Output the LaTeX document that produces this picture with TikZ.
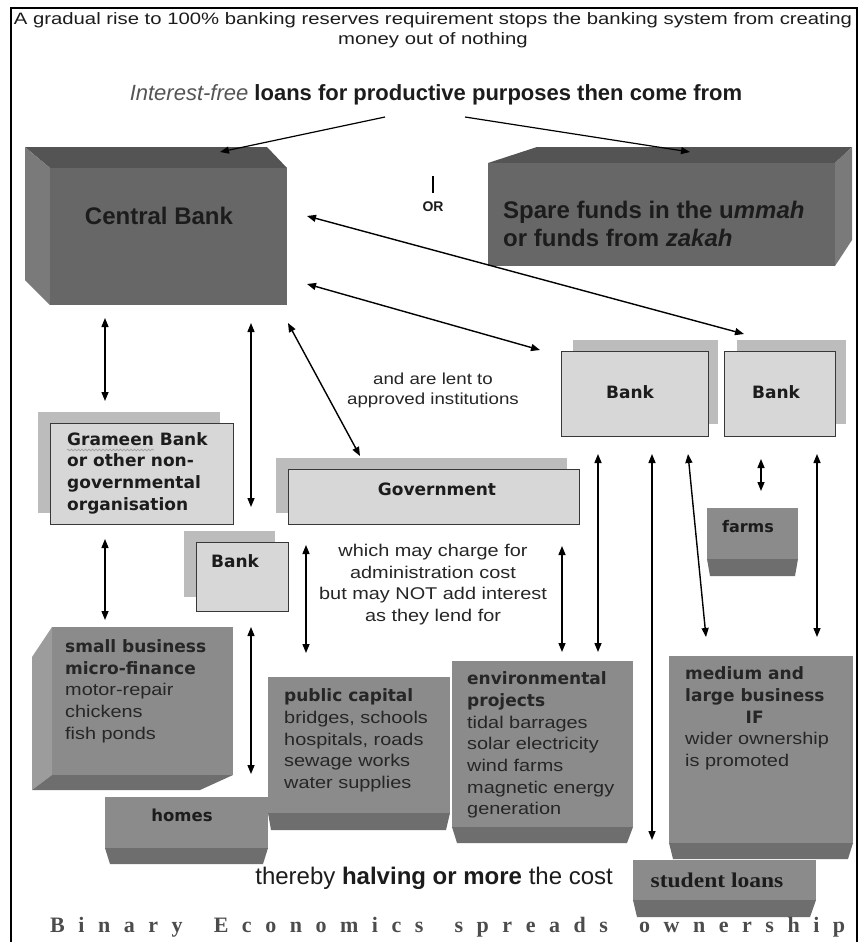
\documentclass[tikz,border=0pt]{standalone}
\usepackage{fontspec}
\setmainfont{Liberation Sans}
\newfontfamily\widefont[FakeStretch=1.17]{Liberation Sans}
\newfontfamily\titlefont[FakeStretch=1.23]{Liberation Sans}
\newfontfamily\verdfont{DejaVu Sans}
\newfontfamily\serifont{Liberation Serif}
\newfontfamily\serifwide[FakeStretch=1.12]{Liberation Serif}
\usetikzlibrary{arrows.meta,decorations.pathmorphing}
\definecolor{txt}{HTML}{1C1C1C}
\definecolor{bodytxt}{HTML}{262626}
\definecolor{cbtop}{HTML}{545454}
\definecolor{cbfront}{HTML}{676767}
\definecolor{cbside}{HTML}{7A7A7A}
\definecolor{gfront}{HTML}{8B8B8B}
\definecolor{gbottom}{HTML}{6E6E6E}
\definecolor{gside}{HTML}{9C9C9C}
\definecolor{bankfill}{HTML}{D7D7D7}
\definecolor{bankshadow}{HTML}{BCBCBC}
\definecolor{bankline}{HTML}{383838}
\definecolor{ifree}{HTML}{555555}
\newcommand\myls{\hskip 0pt plus 1fill\relax}
\newcommand\myws{\hskip 0pt plus 2.3fill\relax}
\begin{document}
\begin{tikzpicture}[x=1pt,y=-1pt,
  face/.style={inner sep=0pt, outer sep=0pt, anchor=north west, draw=none},
  bankbox/.style={inner sep=0pt, outer sep=0pt, anchor=north west, fill=bankfill, draw=bankline, line width=1pt},
  arr/.style={line width=1.4pt, {Triangle[length=9pt,width=7pt]}-{Triangle[length=9pt,width=7pt]}},
  sarr/.style={line width=1.2pt, -{Triangle[length=9pt,width=7pt]}},
  lbl/.style={inner sep=0pt, text=txt, font=\verdfont\bfseries\fontsize{17pt}{21.7pt}\selectfont},
  body/.style={inner sep=0pt, text=bodytxt, align=left, anchor=west, font=\widefont\fontsize{17pt}{21.7pt}\selectfont},
  note/.style={inner sep=0pt, text=bodytxt, align=center},
]
\useasboundingbox (0,0) rectangle (867,942);
\fill[white] (0,0) rectangle (867,942);
% frame
\draw[line width=1.6pt] (11,942) -- (11,8) -- (857,8) -- (857,942);

% Central Bank
\fill[cbtop] (25,147) -- (267,147) -- (287,168) -- (50,168) -- cycle;
\fill[cbside] (25,147) -- (50,168) -- (50,305) -- (25,280) -- cycle;
\node[face, fill=cbfront, minimum width=237pt, minimum height=137pt] (cb) at (50,168) {};
% Spare funds
\fill[cbtop] (488,163) -- (537,147) -- (852,147) -- (835,163) -- cycle;
\fill[cbside] (835,163) -- (852,147) -- (852,240) -- (835,266) -- cycle;
\node[face, fill=cbfront, minimum width=347pt, minimum height=103pt] (sf) at (488,163) {};

% light boxes
\fill[bankshadow] (573,340) rectangle (718,424);
\node[bankbox, minimum width=147pt, minimum height=85pt] (bank1) at (561,351) {};
\fill[bankshadow] (737,340) rectangle (846,424);
\node[bankbox, minimum width=111pt, minimum height=85pt] (bank2) at (724,351) {};
\fill[bankshadow] (38,412) rectangle (220,513);
\node[bankbox, minimum width=183pt, minimum height=101pt] (grameen) at (50,423) {};
\fill[bankshadow] (276,458) rectangle (567,513);
\node[bankbox, minimum width=291pt, minimum height=55pt] (gov) at (288,469) {};
\fill[bankshadow] (184,531) rectangle (275,597);
\node[bankbox, minimum width=92pt, minimum height=69pt] (sbank) at (196,542) {};

% grey boxes
\fill[gbottom] (707,559) -- (798,559) -- (795,576) -- (710,576) -- cycle;
\node[face, fill=gfront, minimum width=91pt, minimum height=51pt] (farms) at (707,508) {};
\fill[gside] (52,627) -- (32,657) -- (32,790) -- (52,775) -- cycle;
\fill[gbottom] (32,790) -- (200,790) -- (233,775) -- (52,775) -- cycle;
\node[face, fill=gfront, minimum width=181pt, minimum height=148pt] (sb) at (52,627) {};
\fill[gbottom] (105,848) -- (268,848) -- (263,864) -- (110,864) -- cycle;
\node[face, fill=gfront, minimum width=163pt, minimum height=51pt] (homes) at (105,797) {};
\fill[gbottom] (268,813) -- (450,813) -- (446,830) -- (271,830) -- cycle;
\node[face, fill=gfront, minimum width=182pt, minimum height=136pt] (pc) at (268,677) {};
\fill[gbottom] (452,827) -- (633,827) -- (627,843) -- (457,843) -- cycle;
\node[face, fill=gfront, minimum width=181pt, minimum height=166pt] (env) at (452,661) {};
\fill[gbottom] (669,843) -- (853,843) -- (848,859) -- (673,859) -- cycle;
\node[face, fill=gfront, minimum width=184pt, minimum height=187pt] (med) at (669,656) {};
\fill[gbottom] (633,900) -- (816,900) -- (810,917) -- (637,917) -- cycle;
\node[face, fill=gfront, minimum width=183pt, minimum height=40pt] (stud) at (633,860) {};

% connector end points
\coordinate (t1s) at (385,117); \coordinate (t1e) at (220,152);
\coordinate (t2s) at (465,117); \coordinate (t2e) at (690,152);
\coordinate (c3s) at (307,216); \coordinate (c3e) at (744,334);
\coordinate (c4s) at (307,284); \coordinate (c4e) at (540,350);
\coordinate (c5s) at (105,318); \coordinate (c5e) at (105,401);
\coordinate (c6s) at (251,323); \coordinate (c6e) at (251,507);
\coordinate (c7s) at (288,323); \coordinate (c7e) at (360,456);
\coordinate (c8s) at (105,539); \coordinate (c8e) at (105,620);
\coordinate (c9s) at (306,545); \coordinate (c9e) at (306,653);
\coordinate (c10s) at (251,627); \coordinate (c10e) at (251,774);
\coordinate (c11s) at (562,546); \coordinate (c11e) at (562,652);
\coordinate (c12s) at (598,454); \coordinate (c12e) at (598,652);
\coordinate (c13s) at (652,454); \coordinate (c13e) at (652,840);
\coordinate (c14s) at (688,454); \coordinate (c14e) at (706,637);
\coordinate (c15s) at (761,459); \coordinate (c15e) at (761,491);
\coordinate (c16s) at (817,454); \coordinate (c16e) at (817,637);

\draw[sarr] (t1s) -- (t1e);
\draw[sarr] (t2s) -- (t2e);
\foreach \c in {3,...,16} {\draw[arr] (c\c s) -- (c\c e);}

% texts
\node[note, text=txt, font=\titlefont\fontsize{16.5pt}{20pt}\selectfont] (title) at (433,30) {A gradual rise to 100\% banking reserves requirement stops the banking system from creating\\money out of nothing};
\node[inner sep=0pt, text=txt, font=\fontsize{22pt}{26pt}\selectfont] (sub) at (436,95) {{\color{ifree}\itshape Interest-free} \textbf{loans for productive purposes then come from}};
\draw[line width=1.6pt] (433,176) -- (433,193);
\node[inner sep=0pt, text=txt, font=\bfseries\fontsize{14pt}{16pt}\selectfont] (or) at (433,207) {OR};

\node[inner sep=0pt, text=txt, font=\bfseries\fontsize{24pt}{28pt}\selectfont] (cbt) at (159,216) {Central Bank};
\node[inner sep=0pt, text=txt, anchor=west, align=left, font=\bfseries\fontsize{24pt}{28pt}\selectfont] (sft) at (503,224) {Spare funds in the u\textit{mmah}\\or funds from \textit{zakah}};

\node[lbl] (b1t) at (630,392) {Bank};
\node[lbl] (b2t) at (776,392) {Bank};
\node[lbl] (b3t) at (235,561) {Bank};
\node[lbl] (govt) at (437,489) {Government};
\node[lbl, align=left, anchor=west] (gt) at (67,473) {Grameen Bank\\or other non-\\governmental\\organisation};
\draw[gray!75, line width=0.7pt, decorate, decoration={snake, amplitude=0.9pt, segment length=3.5pt}] (67,450) -- (154,450);

\node[lbl, font=\verdfont\bfseries\fontsize{16pt}{20pt}\selectfont] (ft) at (748,527) {farms};
\node[lbl, font=\verdfont\bfseries\fontsize{16.5pt}{20pt}\selectfont] (ht) at (182,815) {homes};

\node[body] (sbt) at (65,691) {{\verdfont\bfseries small business}\\{\verdfont\bfseries micro-finance}\\motor-repair\\chickens\\fish ponds};
\node[body] (pct) at (284,740.5) {{\verdfont\bfseries public capital}\\bridges, schools\\hospitals, roads\\sewage works\\water supplies};
\node[body] (envt) at (467,745) {{\verdfont\bfseries environmental}\\{\verdfont\bfseries projects}\\tidal barrages\\solar electricity\\wind farms\\magnetic energy\\generation};
\node[body] (medt) at (685,718.5) {{\verdfont\bfseries medium and}\\{\verdfont\bfseries large business}\\{\verdfont\bfseries\makebox[139pt]{IF}}\\wider ownership\\is promoted};

\node[inner sep=0pt, text=txt, font=\serifwide\bfseries\fontsize{21pt}{24pt}\selectfont] (st) at (717,880) {student loans};

\node[note, font=\widefont\fontsize{16pt}{20pt}\selectfont] (lent) at (433,390) {and are lent to\\approved institutions};
\node[note, font=\widefont\fontsize{17pt}{21.7pt}\selectfont] (charge) at (433,584.5) {which may charge for\\administration cost\\but may NOT add interest\\as they lend for};
\node[inner sep=0pt, anchor=east, text=txt, font=\fontsize{24pt}{28pt}\selectfont] (half) at (613,878) {thereby \textbf{halving or more} the cost};

\node[inner sep=0pt, anchor=west, text=black!70, font=\serifont\bfseries\fontsize{22pt}{24pt}\selectfont] (binary) at (50,927) {\hbox to 795pt{B\myls i\myls n\myls a\myls r\myls y\myws E\myls c\myls o\myls n\myls o\myls m\myls i\myls c\myls s\myws s\myls p\myls r\myls e\myls a\myls d\myls s\myws o\myls w\myls n\myls e\myls r\myls s\myls h\myls i\myls p}};
\end{tikzpicture}
\end{document}
